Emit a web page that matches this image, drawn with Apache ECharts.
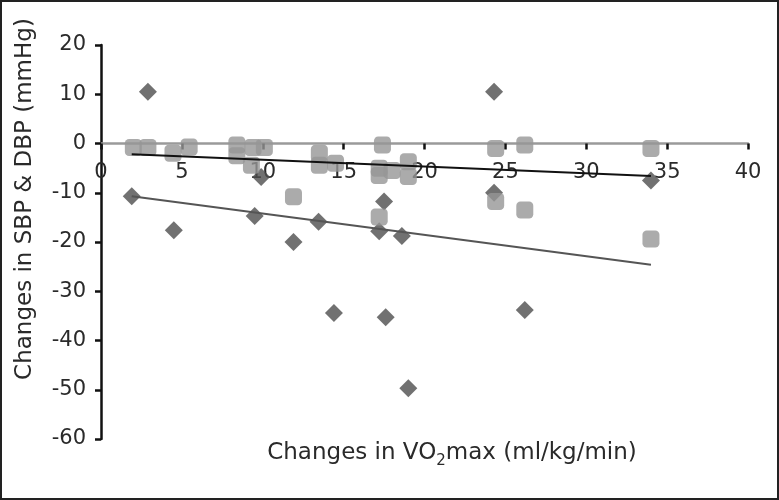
<!DOCTYPE html>
<html>
<head>
<meta charset="utf-8">
<script src="https://cdn.jsdelivr.net/npm/echarts@6/dist/echarts.min.js"></script>
<style>
html,body{margin:0;padding:0;background:#fff;}
#chart{width:779px;height:500px;}
</style>
</head>
<body>
<div id="chart"></div>
<script>
// Changes in VO2max (ml/kg/min) vs changes in SBP (diamonds)
var sbpX = [1.9, 2.9, 4.5, 9.5, 9.9, 11.9, 13.45, 14.4, 17.2, 17.5, 18.6, 17.6, 19.0, 24.3, 24.3, 26.2, 34.0];
var sbpY = [-10.7, 10.5, -17.6, -14.7, -6.8, -20.0, -15.9, -34.4, -17.8, -11.8, -18.8, -35.3, -49.7, 10.5, -10.0, -33.8, -7.5];
// Changes in VO2max vs changes in DBP (squares)
var dbpX = [2.0, 2.9, 4.45, 5.45, 8.4, 8.4, 9.4, 10.1, 9.3, 11.9, 13.5, 13.5, 14.5, 17.4, 17.2, 17.2, 18.0, 19.0, 19.0, 17.2, 24.4, 26.2, 34.0, 24.4, 26.2, 34.0];
var dbpY = [-0.8, -0.8, -2.0, -0.7, -0.3, -2.5, -0.8, -0.8, -4.4, -10.8, -2.0, -4.4, -4.0, -0.3, -5.0, -6.5, -5.5, -3.7, -6.7, -14.9, -1.0, -0.3, -1.0, -11.8, -13.5, -19.4];
// Linear trend lines (end points)
var sbpTrendX = [1.9, 34.0];
var sbpTrendY = [-10.7, -24.6];
var dbpTrendX = [1.9, 34.0];
var dbpTrendY = [-2.2, -6.6];
// Axis ticks
var xTicks = {min: 0, max: 40, interval: 5};
var yTicks = {min: -60, max: 20, interval: 10};

function pairs(xs, ys){ return xs.map(function(x,i){ return [x, ys[i]]; }); }

var FONT = 'DejaVu Sans, Liberation Sans, Arial, sans-serif';
var GRID_TOP = 45, GRID_BOTTOM = 61, H = 500;
var gridH = H - GRID_TOP - GRID_BOTTOM;
// distance from bottom of grid to the y=0 line, so the x axis sits on zero with its labels
var zeroOffset = gridH * (0 - yTicks.min) / (yTicks.max - yTicks.min);

var chart = echarts.init(document.getElementById('chart'), null, {renderer:'canvas'});
chart.setOption({
  animation: false,
  backgroundColor: '#fff',
  grid: {left: 101, right: 31, top: GRID_TOP, bottom: GRID_BOTTOM, containLabel: false},
  xAxis: {
    type: 'value', min: xTicks.min, max: xTicks.max, interval: xTicks.interval,
    position: 'bottom', offset: -zeroOffset,
    axisLine: {show: true, onZero: false, lineStyle: {color: '#9a9a9a', width: 2.5}},
    axisTick: {show: true, inside: false, length: 6, lineStyle: {color: '#111', width: 2.5}},
    axisLabel: {color: '#2a2a2a', fontSize: 21, fontFamily: FONT, margin: 19},
    splitLine: {show: false}
  },
  yAxis: {
    type: 'value', min: yTicks.min, max: yTicks.max, interval: yTicks.interval,
    axisLine: {show: true, onZero: false, lineStyle: {color: '#111', width: 2.5}},
    axisTick: {show: true, inside: false, length: 6, lineStyle: {color: '#111', width: 2.5}},
    axisLabel: {color: '#2a2a2a', fontSize: 21, fontFamily: FONT, margin: 15},
    splitLine: {show: false}
  },
  series: [
    {type: 'scatter', name: 'SBP', data: pairs(sbpX, sbpY), symbol: 'diamond', symbolSize: 18,
     itemStyle: {color: '#4d4d4d'}, z: 2},
    {type: 'scatter', name: 'DBP', data: pairs(dbpX, dbpY), symbol: 'roundRect', symbolSize: 17,
     itemStyle: {color: '#969696'}, z: 3},
    {type: 'line', data: pairs(sbpTrendX, sbpTrendY), symbol: 'none',
     lineStyle: {color: '#555', width: 2}, z: 4},
    {type: 'line', data: pairs(dbpTrendX, dbpTrendY), symbol: 'none',
     lineStyle: {color: '#111', width: 2}, z: 4}
  ],
  graphic: [
    {type: 'rect', shape: {x: 1, y: 1, width: 777, height: 498},
     style: {fill: 'none', stroke: '#222', lineWidth: 2}, silent: true},
    {type: 'text', x: 25, y: 199, rotation: Math.PI/2,
     style: {text: 'Changes in SBP & DBP (mmHg)', fontSize: 23, fontFamily: FONT,
       fill: '#2a2a2a', align: 'center', verticalAlign: 'middle'}},
    {type: 'text', x: 452, y: 453,
     style: {text: 'Changes in VO{sub|2}max (ml/kg/min)', fill: '#2a2a2a', align: 'center', verticalAlign: 'middle',
       fontSize: 23, fontFamily: FONT, lineHeight: 32,
       rich: {sub: {fontSize: 15, fontFamily: FONT, lineHeight: 15, verticalAlign: 'bottom', fill: '#2a2a2a'}}}}
  ]
});
</script>
</body>
</html>
